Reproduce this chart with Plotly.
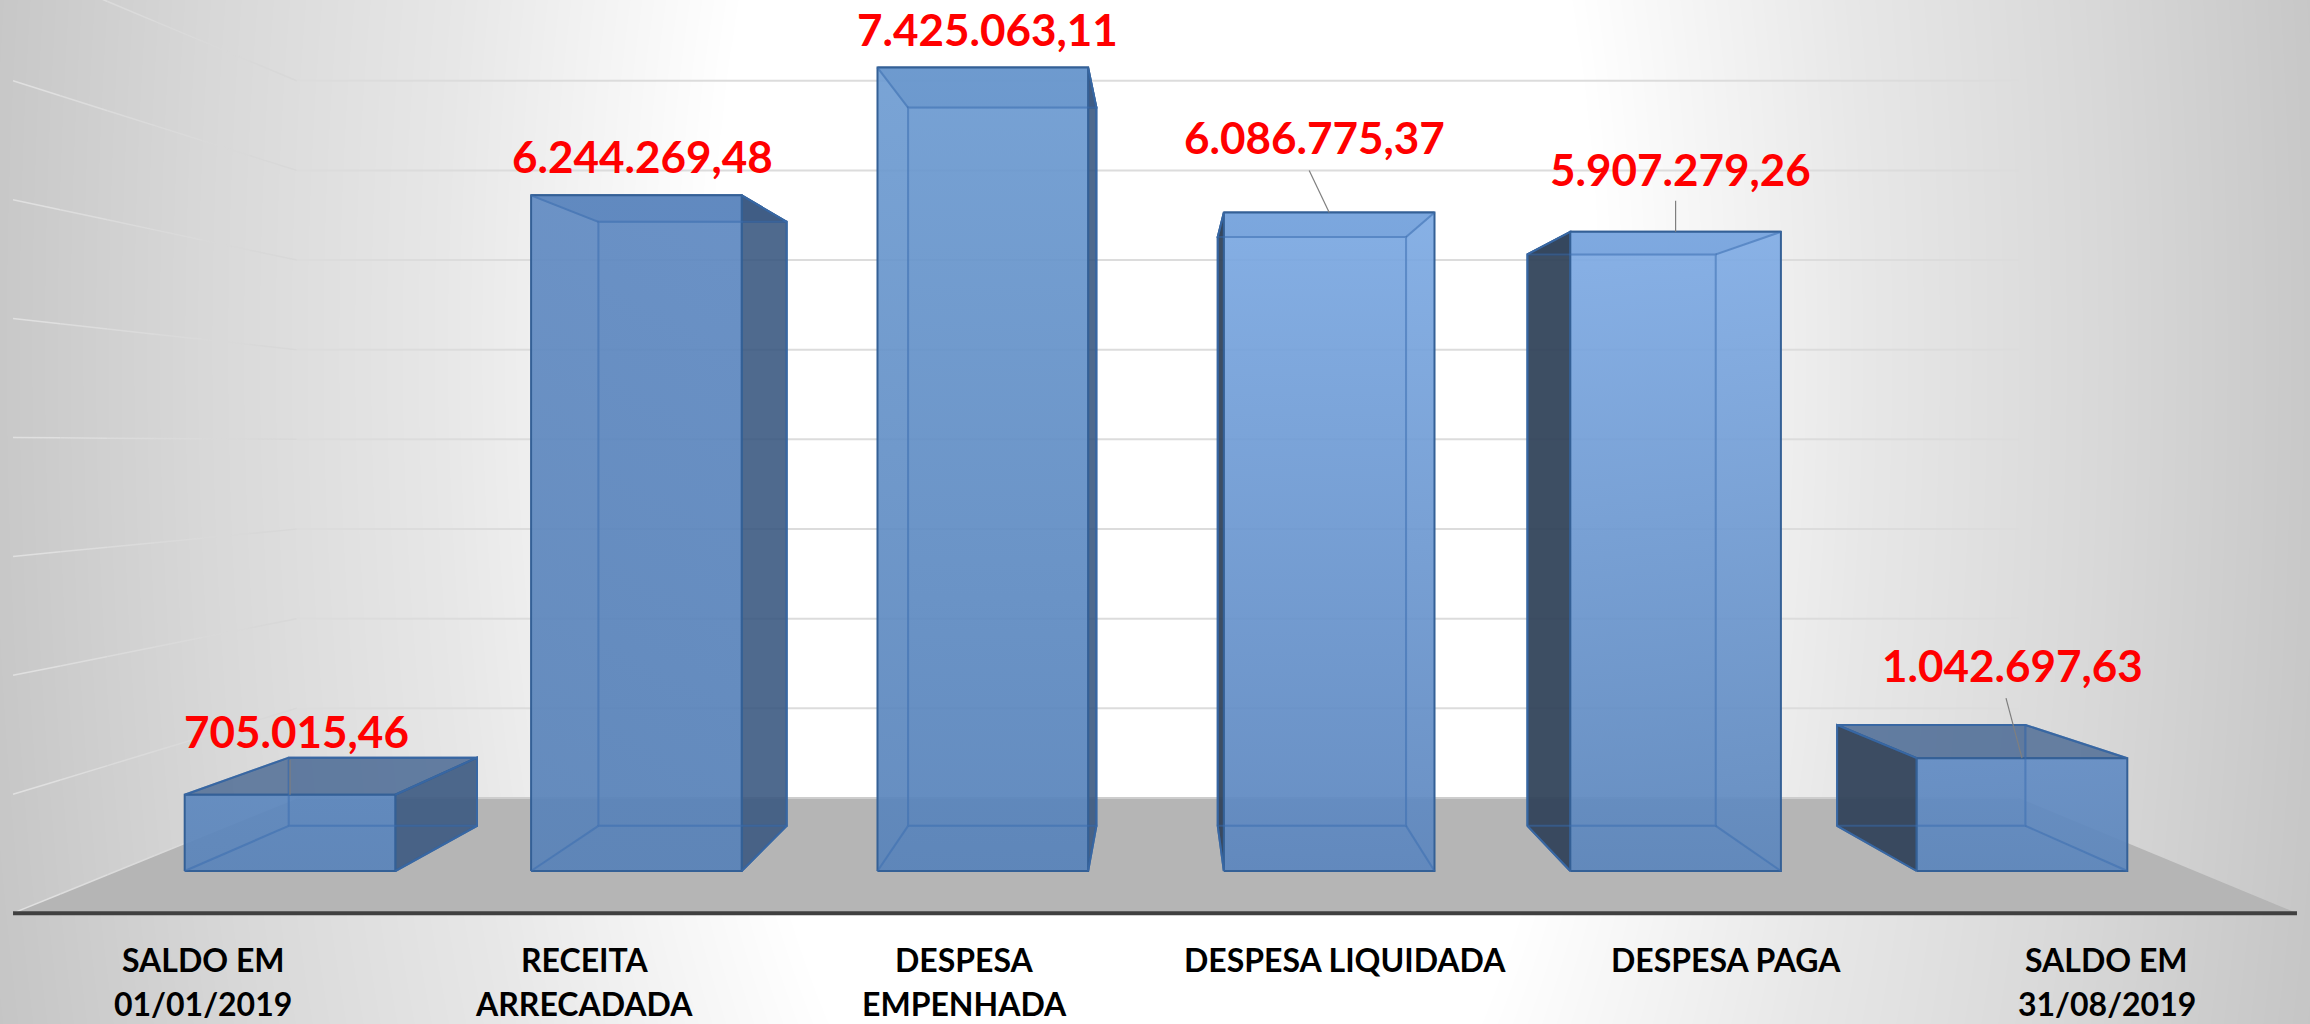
import numpy as np
import plotly.graph_objects as go

# ---- data ----
categories = [["SALDO EM", "01/01/2019"], ["RECEITA", "ARRECADADA"], ["DESPESA", "EMPENHADA"],
              ["DESPESA LIQUIDADA"], ["DESPESA PAGA"], ["SALDO EM", "31/08/2019"]]
values = [705015.46, 6244269.48, 7425063.11, 6086775.37, 5907279.26, 1042697.63]
value_labels = ["705.015,46", "6.244.269,48", "7.425.063,11", "6.086.775,37", "5.907.279,26", "1.042.697,63"]
gridline_values = [1e6, 2e6, 3e6, 4e6, 5e6, 6e6, 7e6, 8e6]

# ---- styling ----
W, H = 2310, 1024
PX_PER_CAT = 346.4
PX_PER_VAL = 1.082e-4
X0_PX, Y0_PX = 290.0, 871.0
X_RANGE = [-X0_PX / PX_PER_CAT, (W - X0_PX) / PX_PER_CAT]
Y_RANGE = [(Y0_PX - H) / PX_PER_VAL, Y0_PX / PX_PER_VAL]
VX, VY = 2.529, 3.937e6            # vanishing point in data units
S_BACK, S_WALL, S_FLOOR = 0.894, 0.8286, 1.0989   # perspective depth scales
HALF = 0.304
front_top = ["rgb(92,135,190)", "rgb(96,138,194)", "rgb(110,156,210)", "rgb(125,170,227)", "rgb(128,172,229)", "rgb(98,140,196)"]
front_bot = ["rgb(90,132,186)", "rgb(88,130,184)", "rgb(88,131,186)", "rgb(92,134,190)", "rgb(92,134,188)", "rgb(92,134,188)"]
label_off = [(6, -64), (6, -39), (5, -39), (-15, -75), (5, -63), (-10, -93)]
leader_off = [(0, -35), None, None, (-20, -42), (0, -31), (-16, -60)]
FONT = "Lato"


def proj(x, y, s):
    return VX + s * (x - VX), VY + s * (y - VY)


def dx(p):
    return p / PX_PER_CAT


def dy(p):
    return -p / PX_PER_VAL


fig = go.Figure()

# background glow
gx = np.linspace(0, W, 232)
gy = np.linspace(0, H, 103)
PX, PY = np.meshgrid(gx, gy)
r = np.sqrt((PX - 1155) ** 2 + (0.45 * (PY - 350)) ** 2)
bg = np.interp(r, [0, 440, 713, 951, 1155, 1300], [255, 255, 231, 216, 200, 190])
fig.add_trace(go.Heatmap(x=(gx - X0_PX) / PX_PER_CAT, y=(Y0_PX - gy) / PX_PER_VAL, z=bg, zmin=0, zmax=255,
                         zsmooth="best", showscale=False, hoverinfo="skip",
                         colorscale=[[0, "#000000"], [1, "#ffffff"]]))


def poly(xs, ys, fill=None, line=None, width=2, grad=None):
    kw = dict(x=list(xs), y=list(ys), mode="lines", showlegend=False, hoverinfo="skip")
    if line:
        kw["line"] = dict(color=line, width=width)
    else:
        kw["line"] = dict(width=0)
    if fill:
        kw["fill"] = "toself"
        kw["fillcolor"] = fill
    if grad:
        kw["fill"] = "toself"
        kw["fillgradient"] = grad
    fig.add_trace(go.Scatter(**kw))


def corners(x1, x2, y1, y2, s):
    a = proj(x1, y1, s); b = proj(x2, y1, s); c = proj(x2, y2, s); d = proj(x1, y2, s)
    return a, b, c, d


def closed(pts):
    pts = list(pts) + [pts[0]]
    return [p[0] for p in pts], [p[1] for p in pts]


# floor
fl = [proj(-0.5, 0, S_FLOOR), proj(5.5, 0, S_FLOOR), proj(5.5, 0, S_WALL), proj(-0.5, 0, S_WALL)]
poly(*closed(fl), fill="rgb(181,181,181)")

# back wall and left wall grid lines
for gv in gridline_values:
    a = proj(-0.5, gv, S_WALL); b = proj(5.5, gv, S_WALL)
    poly([a[0], b[0]], [a[1], b[1]], line="rgb(220,220,220)", width=2)
wall_shades = ["rgb(216,216,216)", "rgb(217,217,217)", "rgb(218,218,218)", "rgb(219,219,219)", "rgb(221,221,221)", "rgb(224,224,224)"]
for gv in [0.0] + gridline_values:
    for k, shade in enumerate(wall_shades):
        s1 = S_WALL + (S_FLOOR - S_WALL) * k / len(wall_shades)
        s2 = S_WALL + (S_FLOOR - S_WALL) * (k + 1) / len(wall_shades)
        a = proj(-0.5, gv, s1); b = proj(-0.5, gv, s2)
        poly([a[0], b[0]], [a[1], b[1]], line=shade, width=1.5)
a = proj(-0.5, 0, S_WALL); b = proj(5.5, 0, S_WALL)
poly([a[0], b[0]], [a[1], b[1]], line="rgb(205,205,205)", width=2)

# axis line
a = proj(-0.5, 0, S_FLOOR); b = proj(5.5, 0, S_FLOOR)
poly([a[0], b[0]], [a[1], b[1]], line="rgb(64,64,64)", width=4)

EDGE_F = "rgb(52,96,150)"
EDGE_B = "rgba(60,110,175,0.5)"
for i, v in enumerate(values):
    x1, x2 = i - HALF, i + HALF
    f = corners(x1, x2, 0, v, 1.0)
    k = corners(x1, x2, 0, v, S_BACK)
    # back face
    poly(*closed(k), fill="rgba(70,110,165,0.15)", line=EDGE_B)
    # floor of bar
    poly(*closed([f[0], f[1], k[1], k[0]]), fill="rgba(70,110,165,0.12)", line=EDGE_B)
    # top of bar
    poly(*closed([f[3], f[2], k[2], k[3]]), fill="rgba(62,95,140,0.75)", line=EDGE_F)
    # visible outer side
    if x2 < VX:
        side = [f[1], f[2], k[2], k[1]]
        poly(*closed(side), fill="rgba(58,88,128,0.88)", line=EDGE_F)
    else:
        side = [f[0], f[3], k[3], k[0]]
        poly(*closed(side), fill="rgba(48,66,88,0.93)", line=EDGE_F)
    # front face
    poly(*closed(f), line=EDGE_F,
         grad=dict(type="vertical", colorscale=[[0, front_bot[i].replace("rgb", "rgba").replace(")", ",0.92)")],
                                                [1, front_top[i].replace("rgb", "rgba").replace(")", ",0.92)")]]))
    # inner edges shown through the front
    poly(*closed(k), line=EDGE_B)
    poly([f[3][0], k[3][0]], [f[3][1], k[3][1]], line=EDGE_B)
    poly([f[2][0], k[2][0]], [f[2][1], k[2][1]], line=EDGE_B)
    poly([f[0][0], k[0][0]], [f[0][1], k[0][1]], line=EDGE_B)
    poly([f[1][0], k[1][0]], [f[1][1], k[1][1]], line=EDGE_B)
    # leader
    if leader_off[i]:
        lx, ly = leader_off[i]
        poly([i, i + dx(lx)], [v, v + dy(ly)], line="rgb(127,127,127)", width=1.2)

annotations = []
for i, v in enumerate(values):
    ox, oy = label_off[i]
    annotations.append(dict(x=i, y=v, xref="x", yref="y", text=value_labels[i], showarrow=False,
                            xshift=ox, yshift=-oy, xanchor="center", yanchor="middle",
                            font=dict(family=FONT, size=44, color="#ff0000", weight="bold")))
for i, lines in enumerate(categories):
    lx = proj(i, 0, S_FLOOR)[0]
    for j, line in enumerate(lines):
        annotations.append(dict(x=lx, y=(Y0_PX - 959 - 44 * j) / PX_PER_VAL, xref="x", yref="y", text=line,
                                showarrow=False, xanchor="center", yanchor="middle",
                                font=dict(family=FONT, size=32, color="#000000", weight="bold")))

fig.update_layout(width=W, height=H, autosize=False, margin=dict(l=0, r=0, t=0, b=0),
                  paper_bgcolor="#ffffff", plot_bgcolor="#ffffff", showlegend=False, annotations=annotations)
fig.update_xaxes(range=X_RANGE, visible=False, showgrid=False, zeroline=False, fixedrange=True)
fig.update_yaxes(range=Y_RANGE, visible=False, showgrid=False, zeroline=False, fixedrange=True)
fig.write_html("out.html", config=dict(displayModeBar=False),
               post_script="document.body.style.margin='0';document.body.style.overflow='hidden';")
